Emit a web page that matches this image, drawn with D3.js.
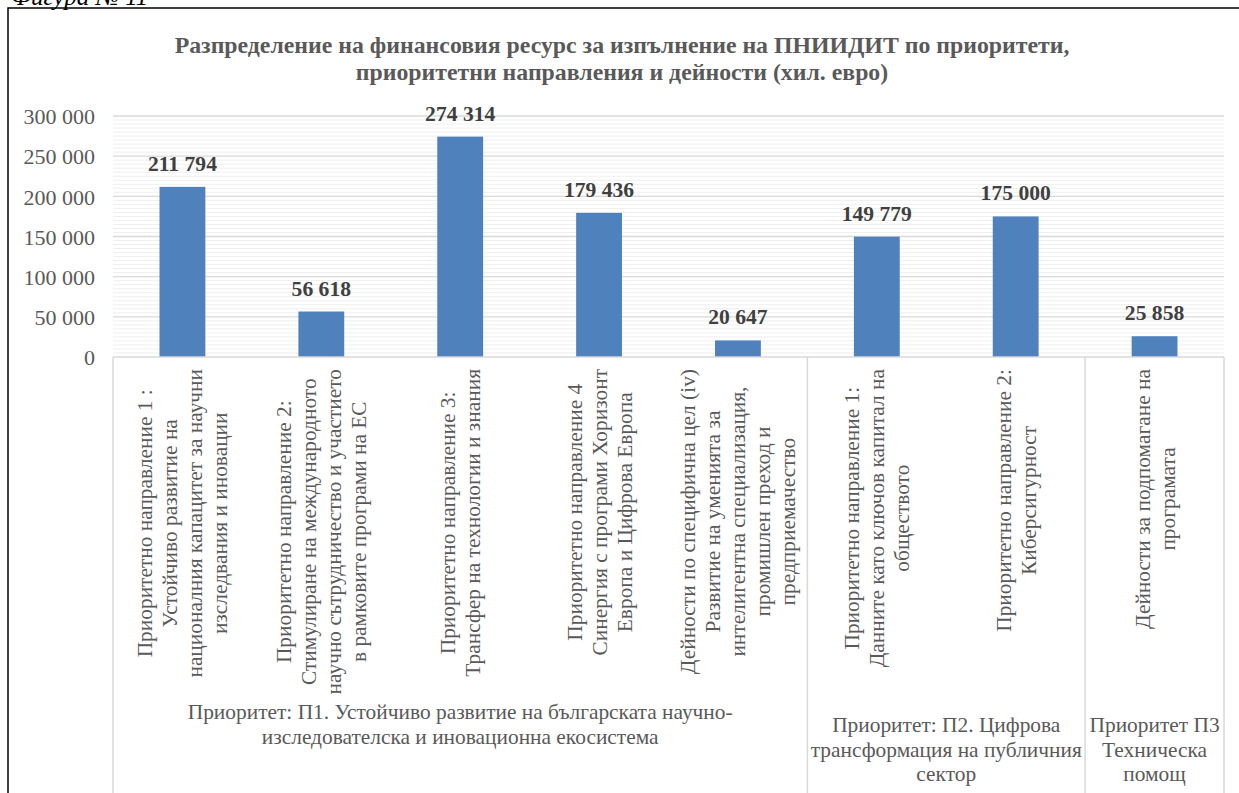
<!DOCTYPE html>
<html><head><meta charset="utf-8">
<script src="https://cdn.jsdelivr.net/npm/d3@7"></script>
<style>
html,body{margin:0;padding:0;background:#fff;}
svg{display:block;font-family:"Liberation Serif","Times New Roman",serif;}
</style></head>
<body>
<svg id="chart" width="1239" height="793"></svg>
<script>
// ---- data ----
const figureCaption = "Фигура № 11";
const titleLines = [
  "Разпределение на финансовия ресурс за изпълнение на ПНИИДИТ по приоритети,",
  "приоритетни направления и дейности (хил. евро)"
];
const categories = [
  "Приоритетно направление 1 :\nУстойчиво развитие на\nнационалния капацитет за научни\nизследвания и иновации",
  "Приоритетно направление 2:\nСтимулиране на международното\nнаучно сътрудничество и участието\nв рамковите програми на ЕС",
  "Приоритетно направление 3:\nТрансфер на технологии и знания",
  "Приоритетно направление 4\nСинергия с програми Хоризонт\nЕвропа и Цифрова Европа",
  "Дейности по специфична цел (iv)\nРазвитие на уменията за\nинтелигентна специализация,\nпромишлен преход и\nпредприемачество",
  "Приоритетно направление 1:\nДанните като ключов капитал на\nобществото",
  "Приоритетно направление 2:\nКиберсигурност",
  "Дейности за подпомагане на\nпрограмата"
];
const values = [211794, 56618, 274314, 179436, 20647, 149779, 175000, 25858];
const groupLabels = [
  "Приоритет: П1. Устойчиво развитие на българската научно-\nизследователска и иновационна екосистема",
  "Приоритет: П2. Цифрова\nтрансформация на публичния\nсектор",
  "Приоритет П3\nТехническа\nпомощ"
];
const groupSizes = [5, 2, 1];
const yTicks = [0, 50000, 100000, 150000, 200000, 250000, 300000];

// ---- layout ----
const svg = d3.select("#chart");
const plot = {left: 113, right: 1224, top: 116, bottom: 357};
const fmt = v => d3.format(",")(v).replace(/,/g, " ");

// outer border
svg.append("rect").attr("x", 8).attr("y", 8).attr("width", 1240).attr("height", 800)
  .attr("fill", "none").attr("stroke", "#000").attr("stroke-width", 1.5);

svg.append("text").attr("x", 11).attr("y", 5).attr("font-style", "italic")
  .attr("font-size", 25).attr("fill", "#000").text(figureCaption);

// title
svg.append("g").selectAll("text").data(titleLines).join("text")
  .attr("x", 622).attr("y", (d, i) => 53 + i * 27)
  .attr("text-anchor", "middle").attr("font-weight", "bold").attr("font-size", 23.8)
  .attr("fill", "#595959").text(d => d);

const x = d3.scaleBand().domain(d3.range(categories.length)).range([plot.left, plot.right]).padding(0);
const y = d3.scaleLinear().domain([0, 300000]).range([plot.bottom, plot.top]);

// minor gridlines
const minor = d3.range(5000, 300001, 5000).filter(v => v % 50000 !== 0);
svg.append("g").selectAll("line").data(minor).join("line")
  .attr("x1", plot.left).attr("x2", plot.right)
  .attr("y1", d => y(d)).attr("y2", d => y(d))
  .attr("stroke", "#efefef").attr("stroke-width", 1);

// major gridlines
svg.append("g").selectAll("line").data(yTicks.filter(v => v > 0)).join("line")
  .attr("x1", plot.left).attr("x2", plot.right)
  .attr("y1", d => y(d)).attr("y2", d => y(d))
  .attr("stroke", "#d9d9d9").attr("stroke-width", 1.3);

// y axis
const yAxis = d3.axisLeft(y).tickValues(yTicks).tickFormat(fmt).tickSize(0).tickPadding(0);
const ya = svg.append("g").attr("transform", `translate(${plot.left - 18},0)`).call(yAxis);
ya.select(".domain").remove();
ya.selectAll("text").attr("font-family", "Liberation Serif").attr("font-size", 22)
  .attr("fill", "#595959").attr("dy", "0.35em");

// bars
const bw = x.bandwidth() * 0.33;
svg.append("g").selectAll("rect").data(values).join("rect")
  .attr("x", (d, i) => x(i) + (x.bandwidth() - bw) / 2)
  .attr("width", bw)
  .attr("y", d => y(d)).attr("height", d => y(0) - y(d))
  .attr("fill", "#4f81bd");

// data labels
svg.append("g").selectAll("text").data(values).join("text")
  .attr("x", (d, i) => x(i) + x.bandwidth() / 2)
  .attr("y", d => y(d) - 16)
  .attr("text-anchor", "middle").attr("font-weight", "bold").attr("font-size", 21.6)
  .attr("fill", "#404040").text(fmt);

// category axis line
svg.append("line").attr("x1", plot.left).attr("x2", plot.right)
  .attr("y1", plot.bottom).attr("y2", plot.bottom)
  .attr("stroke", "#d9d9d9").attr("stroke-width", 1.5);

// group separators
const bounds = [0];
groupSizes.forEach(s => bounds.push(bounds[bounds.length - 1] + s));
svg.append("g").selectAll("line").data(bounds).join("line")
  .attr("x1", d => d < categories.length ? x(d) : plot.right)
  .attr("x2", d => d < categories.length ? x(d) : plot.right)
  .attr("y1", plot.bottom).attr("y2", 800)
  .attr("stroke", "#d9d9d9").attr("stroke-width", 1.5);

// category labels (rotated)
const catFont = 21.4, catLH = 25, catTop = 369;
categories.forEach((c, i) => {
  const lines = c.split("\n");
  const cx = x(i) + x.bandwidth() / 2;
  const g = svg.append("g");
  const texts = g.selectAll("text").data(lines).join("text")
    .attr("font-size", catFont).attr("fill", "#595959").attr("text-anchor", "middle")
    .text(d => d);
  let maxW = 0;
  texts.each(function () { maxW = Math.max(maxW, this.getComputedTextLength()); });
  const cy = catTop + maxW / 2;
  const n = lines.length;
  texts.attr("transform", (d, j) => {
    const lx = cx + (j - (n - 1) / 2) * catLH + catFont * 0.35;
    return `translate(${lx},${cy}) rotate(-90)`;
  });
});

// group labels
const groupFirstY = [719, 732, 732];
groupLabels.forEach((gl, gi) => {
  const x0 = x(bounds[gi]);
  const x1 = bounds[gi + 1] < categories.length ? x(bounds[gi + 1]) : plot.right;
  const lines = gl.split("\n");
  svg.append("g").selectAll("text").data(lines).join("text")
    .attr("x", (x0 + x1) / 2).attr("y", (d, j) => groupFirstY[gi] + j * 24.5)
    .attr("text-anchor", "middle").attr("font-size", 21.4).attr("fill", "#595959")
    .text(d => d);
});
</script>
</body></html>
